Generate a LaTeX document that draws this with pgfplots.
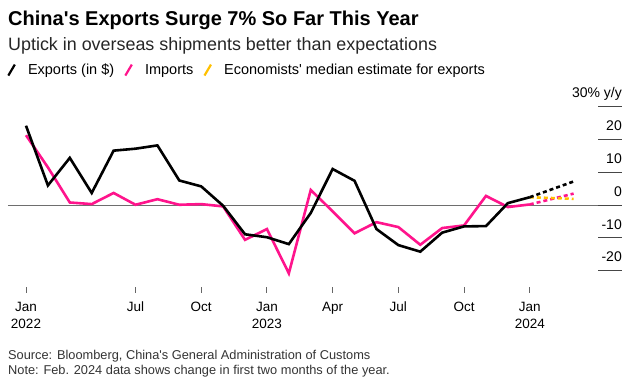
\documentclass[border=0pt]{standalone}
\usepackage{fontspec}
\setmainfont{Liberation Sans}
\newfontfamily\plainfont{Liberation Sans}
\newcommand{\ap}{{\plainfont'}}
\usepackage{pgfplots}
\pgfplotsset{compat=1.18}
\definecolor{expblack}{RGB}{0,0,0}
\definecolor{imppink}{RGB}{255,20,140}
\definecolor{estyellow}{RGB}{255,192,0}
\definecolor{gridgray}{RGB}{70,70,70}
\definecolor{zerogray}{RGB}{110,110,110}
\begin{document}
\begin{tikzpicture}
\begin{axis}[
  scale only axis, width=614pt, height=186pt,
  xmin=-0.822, xmax=27.21, ymin=-26.71, ymax=30,
  axis line style={draw=none},
  ytick=\empty,
  xtick={0,5,8,11,14,17,20,23},
  xticklabels={Jan\\2022,Jul,Oct,Jan\\2023,Apr,Jul,Oct,Jan\\2024},
  xtick pos=lower,
  tick align=inside,
  major tick length=6pt,
  xtick style={draw=gray!80!black, line width=1pt},
  xticklabel style={align=center, anchor=north, inner sep=0pt, yshift=-9.2pt, font=\fontsize{13.5}{17}\selectfont},
  clip=false,
  legend columns=3,
  legend cell align=left,
  legend style={draw=none, fill=none, at={(axis description cs:-0.0016,1.197)}, anchor=west, inner sep=0pt, font=\fontsize{14.5}{17}\selectfont, /tikz/every even column/.append style={column sep=10pt}, nodes={inner sep=0pt}},
  legend image code/.code={\draw[#1,solid,line width=2.2pt] (0pt,-5.5pt) -- (6.5pt,5.5pt); \path (19.5pt,0pt);},
]
\draw[zerogray, line width=1pt] (axis cs:-0.822,0) -- (axis cs:27.21,0);
\draw[gridgray, line width=1pt] (axis cs:26.12,30) -- (axis cs:27.21,30);
\draw[gridgray, line width=1pt] (axis cs:26.12,20) -- (axis cs:27.21,20);
\draw[gridgray, line width=1pt] (axis cs:26.12,10) -- (axis cs:27.21,10);
\draw[gridgray, line width=1pt] (axis cs:26.12,0) -- (axis cs:27.21,0);
\draw[gridgray, line width=1pt] (axis cs:26.12,-10) -- (axis cs:27.21,-10);
\draw[gridgray, line width=1pt] (axis cs:26.12,-20) -- (axis cs:27.21,-20);
\node[anchor=base east, inner sep=0pt, yshift=8.7pt, font=\fontsize{14}{16}\selectfont] at (axis cs:27.21,30) {30\% y/y};
\node[anchor=base east, inner sep=0pt, yshift=8.7pt, font=\fontsize{14}{16}\selectfont] at (axis cs:27.21,20) {20};
\node[anchor=base east, inner sep=0pt, yshift=8.7pt, font=\fontsize{14}{16}\selectfont] at (axis cs:27.21,10) {10};
\node[anchor=base east, inner sep=0pt, yshift=8.7pt, font=\fontsize{14}{16}\selectfont] at (axis cs:27.21,0) {0};
\node[anchor=base east, inner sep=0pt, yshift=8.7pt, font=\fontsize{14}{16}\selectfont] at (axis cs:27.21,-10) {-10};
\node[anchor=base east, inner sep=0pt, yshift=8.7pt, font=\fontsize{14}{16}\selectfont] at (axis cs:27.21,-20) {-20};
\addlegendimage{expblack}
\addlegendentry{Exports (in \$)}
\addlegendimage{imppink}
\addlegendentry{Imports}
\addlegendimage{estyellow}
\addlegendentry{Economists\ap\ median estimate for exports}
% Imports
\addplot[imppink, line width=2.6pt, forget plot] coordinates {
(0,21.3) (1,11.5) (2,0.8) (3,0.3) (4,3.7) (5,0.1) (6,1.8) (7,0.1) (8,0.3) (9,-0.4)
(10,-10.6) (11,-7.3) (12,-20.8) (13,4.6) (14,-1.9) (15,-8.6) (16,-5.2) (17,-6.7)
(18,-12.1) (19,-7.0) (20,-6.2) (21,2.8) (22,-0.6) (23,0.2)};
\addplot[imppink, line width=2.6pt, dash pattern=on 4pt off 3pt, forget plot] coordinates {(23,0.2) (25,3.5)};
\addplot[estyellow, line width=2.6pt, dash pattern=on 4pt off 3pt, forget plot] coordinates {(23,2.4) (25,1.9)};
% Exports
\addplot[expblack, line width=2.6pt, forget plot] coordinates {
(0,24.2) (1,6.0) (2,14.4) (3,3.7) (4,16.6) (5,17.2) (6,18.2) (7,7.5) (8,5.7) (9,-0.2)
(10,-8.9) (11,-9.8) (12,-11.9) (13,-2.4) (14,11.0) (15,7.4) (16,-7.3) (17,-12.2)
(18,-14.2) (19,-8.4) (20,-6.5) (21,-6.4) (22,0.6) (23,2.4)};
\addplot[expblack, line width=2.6pt, dash pattern=on 4pt off 3pt, forget plot] coordinates {(23,2.4) (25,7.2)};
\end{axis}
\path[use as bounding box] (-8pt,-88.3pt) rectangle (633pt,292.7pt);
\node[anchor=base west, inner sep=0pt, font=\fontsize{20}{24}\selectfont\bfseries] at (0pt,266.7pt) {China\ap s Exports Surge 7\% So Far This Year};
\node[anchor=base west, inner sep=0pt, font=\fontsize{17.9}{21}\selectfont, text=black!85] at (0pt,241.7pt) {Uptick in overseas shipments better than expectations};
\node[anchor=base west, inner sep=0pt, font=\fontsize{12.8}{15}\selectfont, text=black!80] at (0pt,-66.3pt) {Source: Bloomberg, China\ap s General Administration of Customs};
\node[anchor=base west, inner sep=0pt, font=\fontsize{12.8}{15}\selectfont, text=black!80] at (0pt,-81.3pt) {Note: Feb. 2024 data shows change in first two months of the year.};
\end{tikzpicture}
\end{document}
